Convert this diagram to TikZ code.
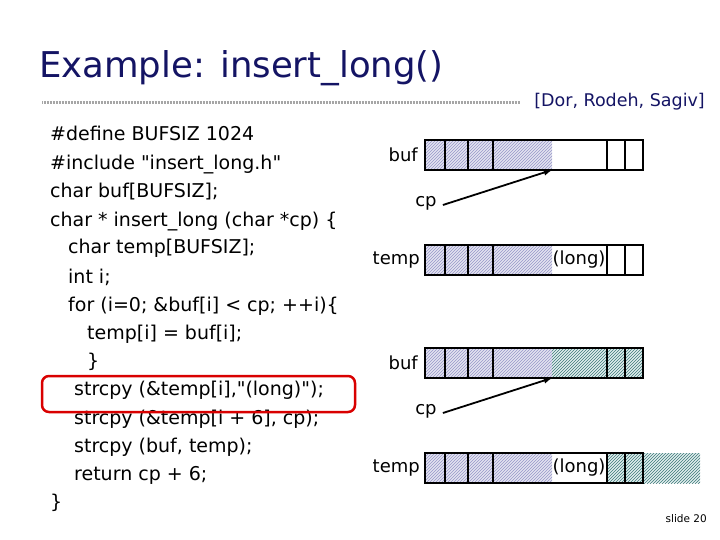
\documentclass[tikz,border=0pt]{standalone}
\usepackage{fontspec}
\setmainfont{DejaVu Sans}
\usetikzlibrary{patterns}
\definecolor{lav}{RGB}{150,150,200}
\definecolor{tea}{RGB}{60,120,120}
\begin{document}
\begin{tikzpicture}[x=1pt,y=-1pt,
  code/.style={anchor=base west,inner sep=0,font=\fontsize{19}{20}\selectfont},
  lbl/.style={inner sep=0,font=\fontsize{18}{20}\selectfont},
  box/.style={draw,line width=2.8pt},
  hA/.style={fill={rgb,255:red,228;green,228;blue,240},postaction={pattern=north east lines,pattern color=lav}},
  hB/.style={fill={rgb,255:red,225;green,238;blue,238},postaction={pattern=north east lines,pattern color=tea}},
  arr/.style={-latex,line width=1.8pt}]
\useasboundingbox (0,0) rectangle (720,540);
\node[anchor=base west,inner sep=0,font=\fontsize{35.5}{40}\selectfont,text={rgb,255:red,20;green,20;blue,100}] (title) at (39,78) {Example: insert\_long()};
\draw[line width=3pt,gray!70,dash pattern=on 1pt off 0.5pt] (42,103) -- (520,103);
\node[anchor=base east,inner sep=0,font=\fontsize{17.5}{20}\selectfont,text={rgb,255:red,20;green,20;blue,100}] (cite) at (705,107) {[Dor, Rodeh, Sagiv]};
\foreach \t/\x/\y in {{\#define BUFSIZ 1024}/50/141,{\#include \textquotedbl insert\_long.h\textquotedbl}/50/170,{char buf[BUFSIZ];}/50/198,{char * insert\_long (char *cp) \{}/50/226,{char temp[BUFSIZ];}/68/254,{int i;}/68/283,{for (i=0; \&buf[i] < cp; ++i)\{}/68/311,{temp[i] = buf[i];}/87/339,{\}}/87/367,{strcpy (\&temp[i],\textquotedbl(long)\textquotedbl);}/74/395,{strcpy (\&temp[i + 6], cp);}/74/424,{strcpy (buf, temp);}/74/452,{return cp + 6;}/74/480,{\}}/50/508}
  \node[code] at (\x,\y) {\t};
\draw[red!85!black,line width=2.5pt,rounded corners=7pt] (42,376) rectangle (355,412);
\foreach \yo/\sec in {0/0,208/1}{
\begin{scope}[yshift=-\yo]
\fill[hA] (425,140) rectangle (552,170);
\fill[hA] (425,245) rectangle (552,275);
\ifnum\sec=1
\fill[hB] (552,140) rectangle (643,170);
\fill[hB] (607,245) rectangle (643,275);
\fill[hB] (643,245) rectangle (700,275);
\fi
\draw[box] (425,140) rectangle (643,170);
\foreach \d in {445,468,493,607,625} \draw[box] (\d,140)--(\d,170);
\draw[box] (425,245) rectangle (643,275);
\foreach \d in {445,468,493,607,625} \draw[box] (\d,245)--(\d,275);
\node[lbl,anchor=east] at (418,155) {buf};
\node[lbl,anchor=east] at (420,260) {temp};
\node[lbl] at (579,260) {(long)};
\node[lbl] (cp\sec) at (426,203) {cp};
\coordinate (t\sec) at (552,170);
\draw[arr] (cp\sec.east) ++(6,2) -- (t\sec);
\end{scope}}
\node[anchor=base east,inner sep=0,font=\fontsize{10.5}{12}\selectfont] (sl) at (707,522) {slide 20};
\end{tikzpicture}
\end{document}
